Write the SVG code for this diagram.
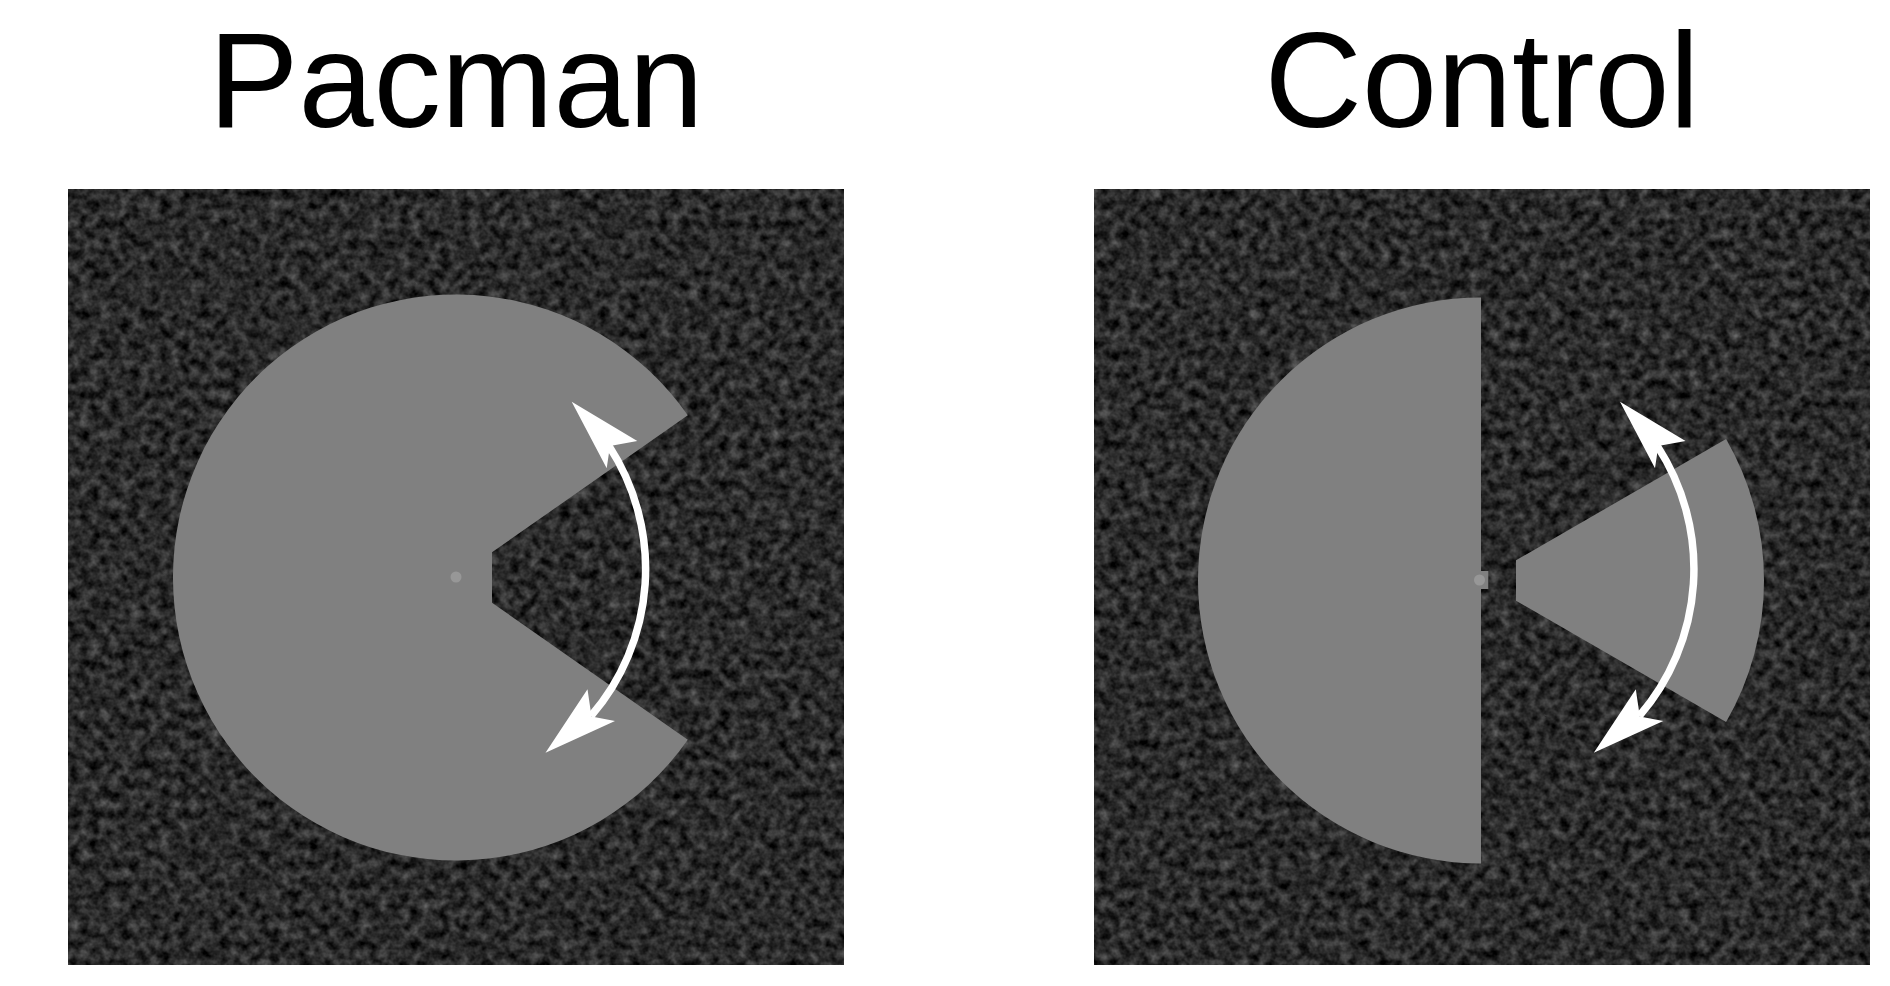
<svg xmlns="http://www.w3.org/2000/svg" width="1890" height="986" viewBox="0 0 1890 986">
  <style>
    .title { font-family: "Liberation Sans", Arial, sans-serif; font-size: 135px; fill: #000; text-anchor: middle; }
    .shape { fill: #808080; }
    .dot { fill: #979797; }
    .shaft { fill: none; stroke: #fff; stroke-width: 7.5; stroke-linecap: butt; }
    .head { fill: #fff; }
  </style>
  <defs>
    <filter id="noise" x="0" y="0" width="1" height="1" color-interpolation-filters="sRGB">
      <feTurbulence type="fractalNoise" baseFrequency="0.1" numOctaves="3" seed="7" result="t"/>
      <feColorMatrix in="t" type="matrix" values="0.5 0 0 0 -0.085  0.5 0 0 0 -0.085  0.5 0 0 0 -0.085  0 0 0 0 1"/>
      <feGaussianBlur stdDeviation="0.6"/>
    </filter>
    <g id="arrow">
      <path class="shaft" d="M 609,446 A 225 225 0 0 1 591,716"/>
      <polygon class="head" points="571.7,401.7 637.3,441 610,446 606.7,468.3"/>
      <polygon class="head" points="545.5,752.7 615,721 591.5,716.5 587.5,689.3"/>
    </g>
  </defs>
  <rect width="1890" height="986" fill="#fff"/>

  <g id="title-pacman"><text class="title" x="456" y="127">Pacman</text></g>
  <g id="title-control"><text class="title" x="1482" y="127">Control</text></g>

  <g id="panel-pacman">
    <rect x="68.5" y="189" width="775" height="776" fill="#2a2a2a" filter="url(#noise)"/>
    <path class="shape" d="M 687.8,415.2 A 283 283 0 1 0 687.8,739.8 L 492,602.7 L 492,552.3 Z"/>
    <circle class="dot" cx="456" cy="577" r="5.5"/>
  </g>

  <g id="panel-control">
    <rect x="1094.5" y="189" width="775.5" height="776" fill="#2a2a2a" filter="url(#noise)"/>
    <path class="shape" d="M 1481,297.5 A 283 283 0 0 0 1481,863.5 Z"/>
    <rect class="shape" x="1480" y="571" width="8.3" height="18"/>
    <circle class="dot" cx="1479.5" cy="580" r="5.5"/>
    <path class="shape" d="M 1516,560.3 L 1726.1,439 A 283 283 0 0 1 1726.1,722 L 1516,600.7 Z"/>
  </g>

  <g id="connectors">
    <g id="arrow-pacman"><use href="#arrow"/></g>
    <g id="arrow-control"><use href="#arrow" transform="translate(1048.3,0)"/></g>
  </g>
</svg>
